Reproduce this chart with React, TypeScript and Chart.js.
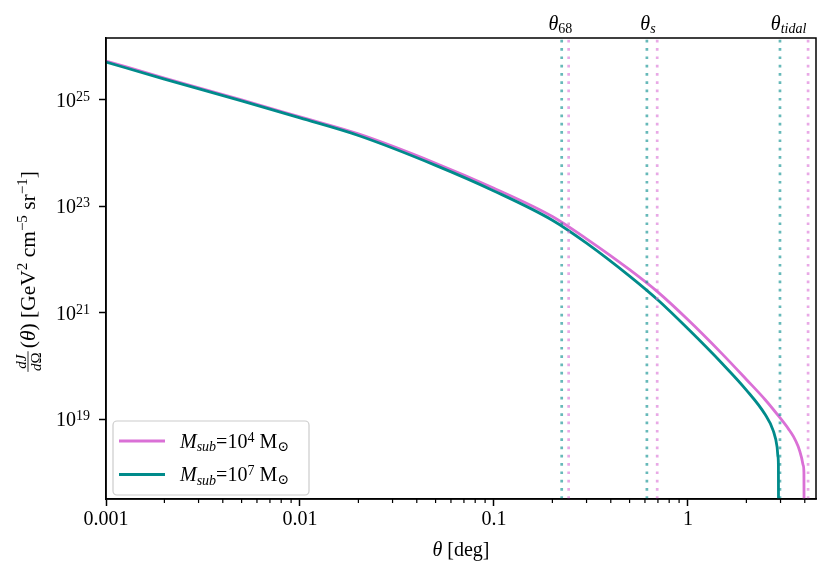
import { useEffect, useRef } from "react";
import { Chart, registerables } from "chart.js";

Chart.register(...registerables);

const FONT = '"Liberation Serif", "DejaVu Serif", serif';

// dJ/dOmega profile, M_sub = 1e4 Msun
const thetaLight = [0.001, 0.002, 0.005, 0.01, 0.02, 0.05, 0.1, 0.2, 0.3, 0.5, 0.7, 1.0, 1.5, 2.0, 2.5, 3.0, 3.3, 3.5, 3.7, 3.85, 3.93, 3.96, 3.97];
const jLight = [5.37e25, 2.57e25, 1.0e25, 4.79e24, 2.29e24, 6.46e23, 2.19e23, 6.46e22, 2.45e22, 6.46e21, 2.45e21, 7.41e20, 1.7e20, 5.62e19, 2.34e19, 1.04e19, 6.58e18, 4.75e18, 3.09e18, 1.92e18, 1.36e18, 1.0e18, 1e17];

// dJ/dOmega profile, M_sub = 1e7 Msun
const thetaHeavy = [0.001, 0.002, 0.005, 0.01, 0.02, 0.05, 0.1, 0.2, 0.3, 0.5, 0.7, 1.0, 1.5, 2.0, 2.5, 2.75, 2.88, 2.91, 2.925, 2.93];
const jHeavy = [5.13e25, 2.45e25, 9.55e24, 4.57e24, 2.14e24, 5.89e23, 1.95e23, 5.5e22, 2.04e22, 4.9e21, 1.74e21, 5.01e20, 1.12e20, 3.55e19, 1.23e19, 6.17e18, 3.02e18, 2.0e18, 1.41e18, 1e17];

// characteristic angles (theta_68, theta_s, theta_tidal)
const markNames = ["68", "s", "tidal"];
const markLight = [0.2426, 0.694, 4.16];
const markHeavy = [0.2234, 0.614, 2.98];
const markLabelAt = [0.22, 0.622, 3.3];

const seriesExp = ["4", "7"];
const seriesColors = ["#da70d6", "#008b8b"];
const markColors = ["rgba(218,112,214,0.6)", "rgba(0,139,139,0.6)"];

const xTickValues = [0.001, 0.01, 0.1, 1];
const xTickLabels = ["0.001", "0.01", "0.1", "1"];
const xMinorTicks = [
  0.002, 0.003, 0.004, 0.005, 0.006, 0.007, 0.008, 0.009,
  0.02, 0.03, 0.04, 0.05, 0.06, 0.07, 0.08, 0.09,
  0.2, 0.3, 0.4, 0.5, 0.6, 0.7, 0.8, 0.9,
  2, 3, 4,
];
const yTickValues = [1e19, 1e21, 1e23, 1e25];
const yTickExps = ["19", "21", "23", "25"];

const X_MIN = 0.001;
const X_MAX = 4.57;
const Y_MIN = 3.2e17;
const Y_MAX = 1.45e26;

type Piece = { t: string; size?: number; italic?: boolean; dy?: number };

function setFont(ctx: CanvasRenderingContext2D, p: Piece) {
  ctx.font = `${p.italic ? "italic " : ""}${p.size ?? 20}px ${FONT}`;
}

function richWidth(ctx: CanvasRenderingContext2D, pieces: Piece[]) {
  let w = 0;
  for (const p of pieces) {
    setFont(ctx, p);
    w += ctx.measureText(p.t).width;
  }
  return w;
}

function drawRich(ctx: CanvasRenderingContext2D, pieces: Piece[], x: number, y: number) {
  let cx = x;
  for (const p of pieces) {
    setFont(ctx, p);
    ctx.fillText(p.t, cx, y + (p.dy ?? 0));
    cx += ctx.measureText(p.t).width;
  }
  return cx;
}

const decorations = {
  id: "decorations",
  afterDraw(chart: Chart) {
    const ctx = chart.ctx;
    const { left, right, top, bottom } = chart.chartArea;
    const xs = chart.scales.x;
    const ys = chart.scales.y;
    ctx.save();
    ctx.fillStyle = "#000";
    ctx.strokeStyle = "#000";
    ctx.textAlign = "left";
    ctx.textBaseline = "alphabetic";

    // minor x ticks
    ctx.lineWidth = 1.2;
    ctx.beginPath();
    for (const v of xMinorTicks) {
      const px = xs.getPixelForValue(v);
      ctx.moveTo(px, bottom);
      ctx.lineTo(px, bottom + 4);
    }
    ctx.stroke();

    // frame
    ctx.lineWidth = 1.5;
    ctx.strokeRect(left, top, right - left, bottom - top);

    // y tick labels
    yTickValues.forEach((v, i) => {
      const py = ys.getPixelForValue(v);
      const pieces: Piece[] = [{ t: "10" }, { t: yTickExps[i], size: 14, dy: -6 }];
      const w = richWidth(ctx, pieces);
      drawRich(ctx, pieces, left - 16 - w, py + 7);
    });

    // theta labels on top
    markNames.forEach((name, i) => {
      const px = xs.getPixelForValue(markLabelAt[i]);
      const pieces: Piece[] = [
        { t: "θ", italic: true },
        { t: name, size: 14, italic: i > 0, dy: 2.5 },
      ];
      const w = richWidth(ctx, pieces);
      drawRich(ctx, pieces, px - w / 2, 30);
    });

    // x title
    const xt: Piece[] = [{ t: "θ", italic: true }, { t: " [deg]" }];
    const xtw = richWidth(ctx, xt);
    drawRich(ctx, xt, (left + right) / 2 - xtw / 2, 556);

    // y title
    ctx.save();
    ctx.translate(35, (top + bottom) / 2 + 4.5);
    ctx.rotate(-Math.PI / 2);
    const fs = 21.5;
    const num: Piece = { t: "dJ", size: 15, italic: true };
    const den: Piece[] = [{ t: "d", size: 15, italic: true }, { t: "Ω", size: 15 }];
    const rest: Piece[] = [
      { t: "(", size: fs },
      { t: "θ", size: fs, italic: true },
      { t: ") [GeV", size: fs },
      { t: "2", size: 15, dy: -8.5 },
      { t: " cm", size: fs },
      { t: "−5", size: 15, dy: -8.5 },
      { t: " sr", size: fs },
      { t: "−1", size: 15, dy: -8.5 },
      { t: "]", size: fs },
    ];
    const numW = richWidth(ctx, [num]);
    const denW = richWidth(ctx, den);
    const fracW = Math.max(numW, denW) + 8;
    const total = fracW + richWidth(ctx, rest);
    const x0 = -total / 2;
    drawRich(ctx, [num], x0 + (fracW - numW) / 2, -9.5);
    drawRich(ctx, den, x0 + (fracW - denW) / 2, 5.5);
    ctx.lineWidth = 0.8;
    ctx.beginPath();
    ctx.moveTo(x0 + 3, -7);
    ctx.lineTo(x0 + fracW - 3, -7);
    ctx.stroke();
    drawRich(ctx, rest, x0 + fracW, 0);
    ctx.restore();

    // legend
    const bx = 113, by = 421, bw = 196, bh = 74;
    ctx.beginPath();
    ctx.roundRect(bx, by, bw, bh, 4);
    ctx.fillStyle = "rgba(255,255,255,0.8)";
    ctx.fill();
    ctx.strokeStyle = "#cccccc";
    ctx.lineWidth = 1.2;
    ctx.stroke();
    seriesExp.forEach((e, i) => {
      const ly = 441 + i * 33.5;
      ctx.strokeStyle = seriesColors[i];
      ctx.lineWidth = 2.8;
      ctx.beginPath();
      ctx.moveTo(119, ly);
      ctx.lineTo(165, ly);
      ctx.stroke();
      ctx.fillStyle = "#000";
      drawRich(ctx, [
        { t: "M", italic: true },
        { t: "sub", size: 14, italic: true, dy: 3.5 },
        { t: "=10" },
        { t: e, size: 14, dy: -6 },
        { t: " M" },
        { t: "⊙", size: 14, dy: 3 },
      ], 180, ly + 6.5);
    });

    ctx.restore();
  },
};

export default function App() {
  const canvasRef = useRef<HTMLCanvasElement>(null);
  const chartRef = useRef<Chart | null>(null);

  useEffect(() => {
    document.body.style.margin = "0";
    if (!canvasRef.current) return;
    if (chartRef.current) chartRef.current.destroy();

    const markSets = [markLight, markHeavy].flatMap((marks, s) =>
      marks.map((v, i) => ({
        label: `mark-${s}-${markNames[i]}`,
        data: [{ x: v, y: Y_MIN }, { x: v, y: Y_MAX }],
        borderColor: markColors[s],
        borderWidth: 2.7,
        borderDash: [2.7, 5.6],
        pointRadius: 0,
        order: 0,
      }))
    );

    chartRef.current = new Chart(canvasRef.current, {
      type: "line",
      data: {
        datasets: [
          ...markSets,
          {
            label: "M_sub=1e4",
            data: thetaLight.map((x, i) => ({ x, y: jLight[i] })),
            borderColor: seriesColors[0],
            borderWidth: 2.8,
            pointRadius: 0,
            cubicInterpolationMode: "monotone",
            order: 2,
          },
          {
            label: "M_sub=1e7",
            data: thetaHeavy.map((x, i) => ({ x, y: jHeavy[i] })),
            borderColor: seriesColors[1],
            borderWidth: 2.8,
            pointRadius: 0,
            cubicInterpolationMode: "monotone",
            order: 1,
          },
        ] as any,
      },
      options: {
        animation: false,
        responsive: true,
        maintainAspectRatio: false,
        events: [],
        layout: { padding: { top: 38, right: 15, left: 0, bottom: 0 } },
        plugins: { legend: { display: false }, tooltip: { enabled: false } },
        scales: {
          x: {
            type: "logarithmic",
            min: X_MIN,
            max: X_MAX,
            afterBuildTicks: (s: any) => {
              s.ticks = xTickValues.map((value) => ({ value }));
            },
            afterFit: (s: any) => {
              s.height = 79;
            },
            grid: { drawOnChartArea: false, tickLength: 7, tickColor: "#000", tickWidth: 1.5 },
            border: { color: "#000", width: 1.5 },
            ticks: {
              autoSkip: false,
              maxRotation: 0,
              padding: 2,
              color: "#000",
              font: { family: FONT, size: 20 },
              callback: (_v: any, i: number) => xTickLabels[i],
            },
          },
          y: {
            type: "logarithmic",
            min: Y_MIN,
            max: Y_MAX,
            afterBuildTicks: (s: any) => {
              s.ticks = yTickValues.map((value) => ({ value }));
            },
            afterFit: (s: any) => {
              s.width = 106;
            },
            grid: { drawOnChartArea: false, tickLength: 7, tickColor: "#000", tickWidth: 1.5 },
            border: { color: "#000", width: 1.5 },
            ticks: { display: false },
          },
        },
      },
      plugins: [decorations],
    });

    return () => {
      if (chartRef.current) {
        chartRef.current.destroy();
        chartRef.current = null;
      }
    };
  }, []);

  return (
    <div style={{ position: "relative", width: 831, height: 578 }}>
      <canvas ref={canvasRef} />
    </div>
  );
}
